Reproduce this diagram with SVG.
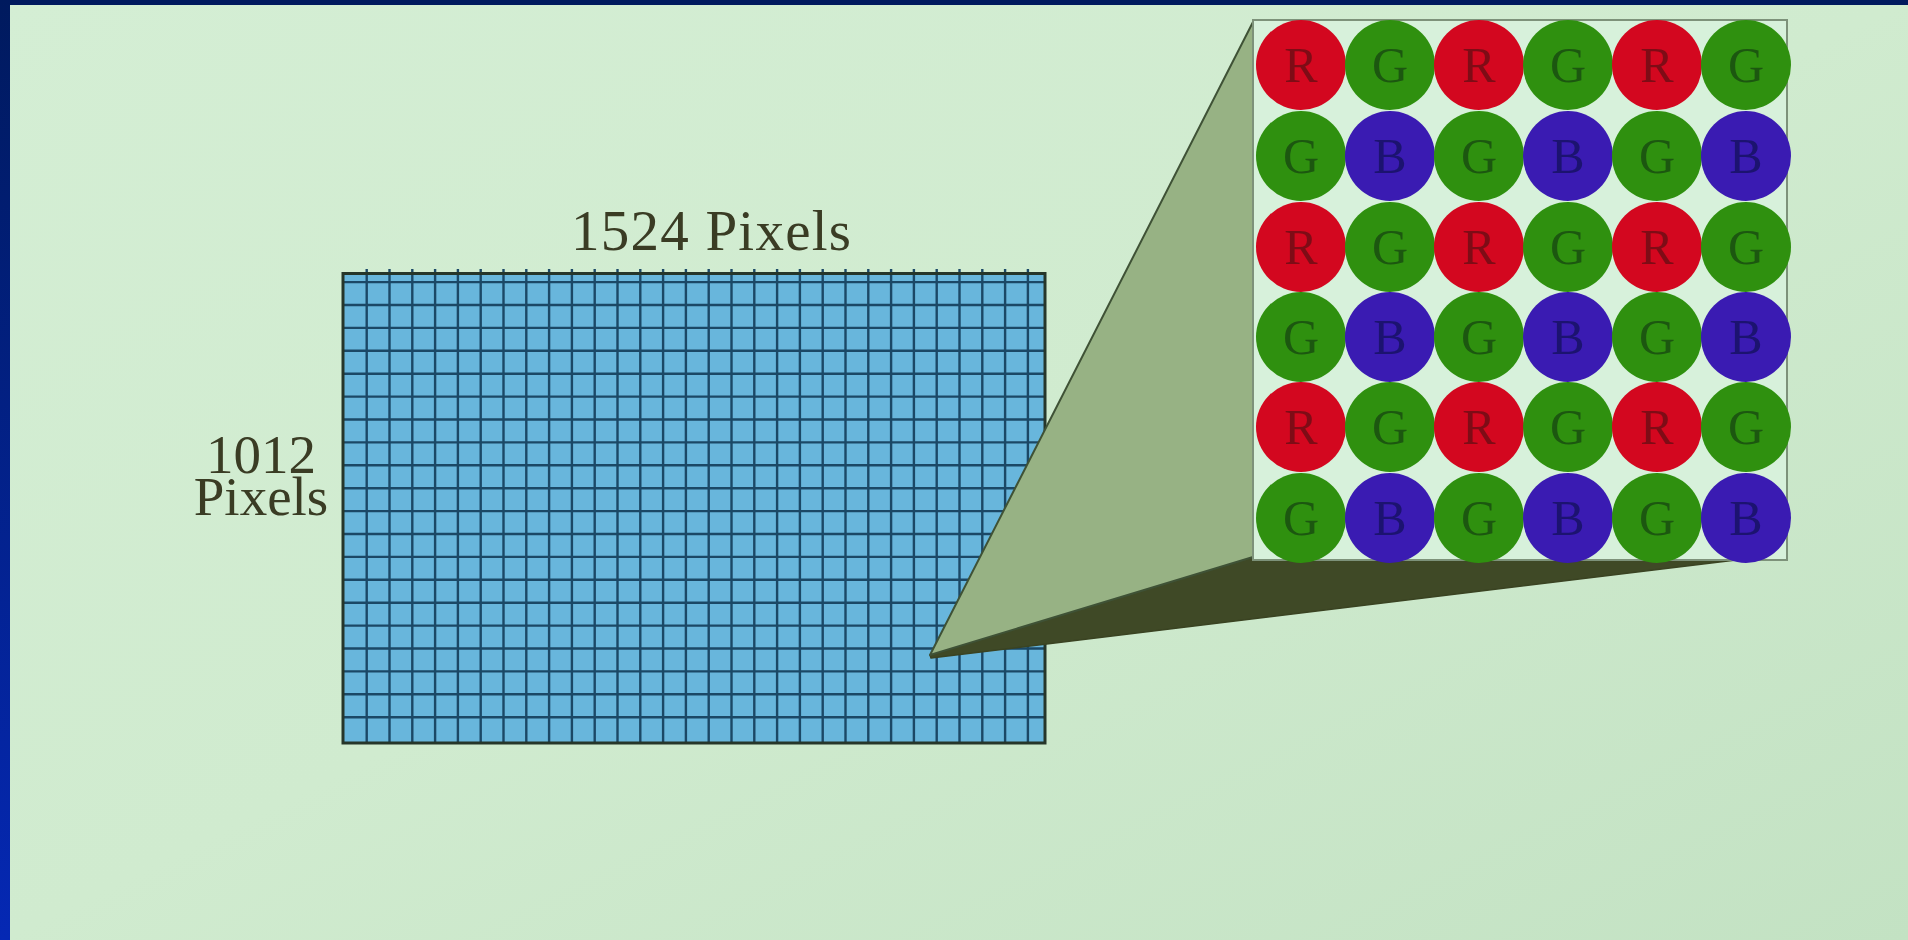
<svg xmlns="http://www.w3.org/2000/svg" width="1908" height="940" viewBox="0 0 1908 940">
<defs>
<linearGradient id="bg" x1="0" y1="0" x2="1" y2="1">
<stop offset="0" stop-color="#d4eed4"/>
<stop offset="0.5" stop-color="#d0ebcf"/>
<stop offset="1" stop-color="#c3e2c3"/>
</linearGradient>
<linearGradient id="side" x1="0" y1="0" x2="0" y2="1">
<stop offset="0" stop-color="#001a5e"/>
<stop offset="1" stop-color="#0528b4"/>
</linearGradient>
<style>
.lbl{font-family:"Liberation Serif","Times New Roman",serif;fill:#3a3c24;}
.gl{stroke:#1b4866;stroke-width:2.4;fill:none;}
.cR{fill:#d3071f;}
.cG{fill:#2f900f;}
.cB{fill:#3a1bb2;}
.ltr{font-family:"Liberation Serif","Times New Roman",serif;font-size:50px;text-anchor:middle;}
.tR{fill:#7e0c16;}
.tG{fill:#1c5710;}
.tB{fill:#1c1370;}
</style>
</defs>
<rect x="0" y="0" width="1908" height="940" fill="url(#bg)"/>
<rect x="0" y="0" width="1908" height="5" fill="#001a5e"/>
<rect x="0" y="0" width="10" height="940" fill="url(#side)"/>

<g id="sensor-grid">
<rect x="343" y="273.5" width="702" height="469.5" fill="#68b6dc"/>
<path class="gl" d="M366.7 269V743M389.5 269V743M412.3 269V743M435.1 269V743M457.9 269V743M480.7 269V743M503.5 269V743M526.3 269V743M549.1 269V743M571.9 269V743M594.7 269V743M617.5 269V743M640.3 269V743M663.1 269V743M685.9 269V743M708.7 269V743M731.5 269V743M754.3 269V743M777.1 269V743M799.9 269V743M822.7 269V743M845.5 269V743M868.3 269V743M891.1 269V743M913.9 269V743M936.7 269V743M959.5 269V743M982.3 269V743M1005.1 269V743M1027.9 269V743"/>
<path class="gl" d="M343 282.1H1045M343 305H1045M343 327.9H1045M343 350.8H1045M343 373.7H1045M343 396.6H1045M343 419.5H1045M343 442.4H1045M343 465.3H1045M343 488.2H1045M343 511.1H1045M343 534H1045M343 556.9H1045M343 579.8H1045M343 602.7H1045M343 625.6H1045M343 648.5H1045M343 671.4H1045M343 694.3H1045M343 717.2H1045"/>
<rect x="343" y="273.5" width="702" height="469.5" fill="none" stroke="#26362a" stroke-width="3"/>
</g>

<g id="label-width">
<text class="lbl" x="711" y="250" font-size="57" text-anchor="middle" textLength="280" lengthAdjust="spacing">1524 Pixels</text>
</g>
<g id="label-height">
<text class="lbl" font-size="55" text-anchor="middle"><tspan x="261" y="473">1012</tspan><tspan x="261" y="515">Pixels</tspan></text>
</g>

<g id="connectors">
<polygon points="930,655 1253,556 1736,560 931,658" fill="#3f4926" stroke="#3a4322" stroke-width="1.5" stroke-linejoin="round"/>
<polygon points="930,655 1253,22 1253,557" fill="#97b284" stroke="#3f5236" stroke-width="2" stroke-linejoin="round"/>
</g>

<g id="bayer-filter">
<rect x="1253" y="20" width="534" height="540" fill="#d7f1db" stroke="#7d927a" stroke-width="2"/>
<g id="row1">
<ellipse class="cR" cx="1301" cy="65" rx="45" ry="45"/><text class="ltr tR" x="1301" y="82">R</text>
<ellipse class="cG" cx="1390" cy="65" rx="45" ry="45"/><text class="ltr tG" x="1390" y="82">G</text>
<ellipse class="cR" cx="1479" cy="65" rx="45" ry="45"/><text class="ltr tR" x="1479" y="82">R</text>
<ellipse class="cG" cx="1568" cy="65" rx="45" ry="45"/><text class="ltr tG" x="1568" y="82">G</text>
<ellipse class="cR" cx="1657" cy="65" rx="45" ry="45"/><text class="ltr tR" x="1657" y="82">R</text>
<ellipse class="cG" cx="1746" cy="65" rx="45" ry="45"/><text class="ltr tG" x="1746" y="82">G</text>
</g>
<g id="row2">
<ellipse class="cG" cx="1301" cy="156" rx="45" ry="45"/><text class="ltr tG" x="1301" y="173">G</text>
<ellipse class="cB" cx="1390" cy="156" rx="45" ry="45"/><text class="ltr tB" x="1390" y="173">B</text>
<ellipse class="cG" cx="1479" cy="156" rx="45" ry="45"/><text class="ltr tG" x="1479" y="173">G</text>
<ellipse class="cB" cx="1568" cy="156" rx="45" ry="45"/><text class="ltr tB" x="1568" y="173">B</text>
<ellipse class="cG" cx="1657" cy="156" rx="45" ry="45"/><text class="ltr tG" x="1657" y="173">G</text>
<ellipse class="cB" cx="1746" cy="156" rx="45" ry="45"/><text class="ltr tB" x="1746" y="173">B</text>
</g>
<g id="row3">
<ellipse class="cR" cx="1301" cy="247" rx="45" ry="45"/><text class="ltr tR" x="1301" y="264">R</text>
<ellipse class="cG" cx="1390" cy="247" rx="45" ry="45"/><text class="ltr tG" x="1390" y="264">G</text>
<ellipse class="cR" cx="1479" cy="247" rx="45" ry="45"/><text class="ltr tR" x="1479" y="264">R</text>
<ellipse class="cG" cx="1568" cy="247" rx="45" ry="45"/><text class="ltr tG" x="1568" y="264">G</text>
<ellipse class="cR" cx="1657" cy="247" rx="45" ry="45"/><text class="ltr tR" x="1657" y="264">R</text>
<ellipse class="cG" cx="1746" cy="247" rx="45" ry="45"/><text class="ltr tG" x="1746" y="264">G</text>
</g>
<g id="row4">
<ellipse class="cG" cx="1301" cy="337" rx="45" ry="45"/><text class="ltr tG" x="1301" y="354">G</text>
<ellipse class="cB" cx="1390" cy="337" rx="45" ry="45"/><text class="ltr tB" x="1390" y="354">B</text>
<ellipse class="cG" cx="1479" cy="337" rx="45" ry="45"/><text class="ltr tG" x="1479" y="354">G</text>
<ellipse class="cB" cx="1568" cy="337" rx="45" ry="45"/><text class="ltr tB" x="1568" y="354">B</text>
<ellipse class="cG" cx="1657" cy="337" rx="45" ry="45"/><text class="ltr tG" x="1657" y="354">G</text>
<ellipse class="cB" cx="1746" cy="337" rx="45" ry="45"/><text class="ltr tB" x="1746" y="354">B</text>
</g>
<g id="row5">
<ellipse class="cR" cx="1301" cy="427" rx="45" ry="45"/><text class="ltr tR" x="1301" y="444">R</text>
<ellipse class="cG" cx="1390" cy="427" rx="45" ry="45"/><text class="ltr tG" x="1390" y="444">G</text>
<ellipse class="cR" cx="1479" cy="427" rx="45" ry="45"/><text class="ltr tR" x="1479" y="444">R</text>
<ellipse class="cG" cx="1568" cy="427" rx="45" ry="45"/><text class="ltr tG" x="1568" y="444">G</text>
<ellipse class="cR" cx="1657" cy="427" rx="45" ry="45"/><text class="ltr tR" x="1657" y="444">R</text>
<ellipse class="cG" cx="1746" cy="427" rx="45" ry="45"/><text class="ltr tG" x="1746" y="444">G</text>
</g>
<g id="row6">
<ellipse class="cG" cx="1301" cy="518" rx="45" ry="45"/><text class="ltr tG" x="1301" y="535">G</text>
<ellipse class="cB" cx="1390" cy="518" rx="45" ry="45"/><text class="ltr tB" x="1390" y="535">B</text>
<ellipse class="cG" cx="1479" cy="518" rx="45" ry="45"/><text class="ltr tG" x="1479" y="535">G</text>
<ellipse class="cB" cx="1568" cy="518" rx="45" ry="45"/><text class="ltr tB" x="1568" y="535">B</text>
<ellipse class="cG" cx="1657" cy="518" rx="45" ry="45"/><text class="ltr tG" x="1657" y="535">G</text>
<ellipse class="cB" cx="1746" cy="518" rx="45" ry="45"/><text class="ltr tB" x="1746" y="535">B</text>
</g>
</g>
</svg>
